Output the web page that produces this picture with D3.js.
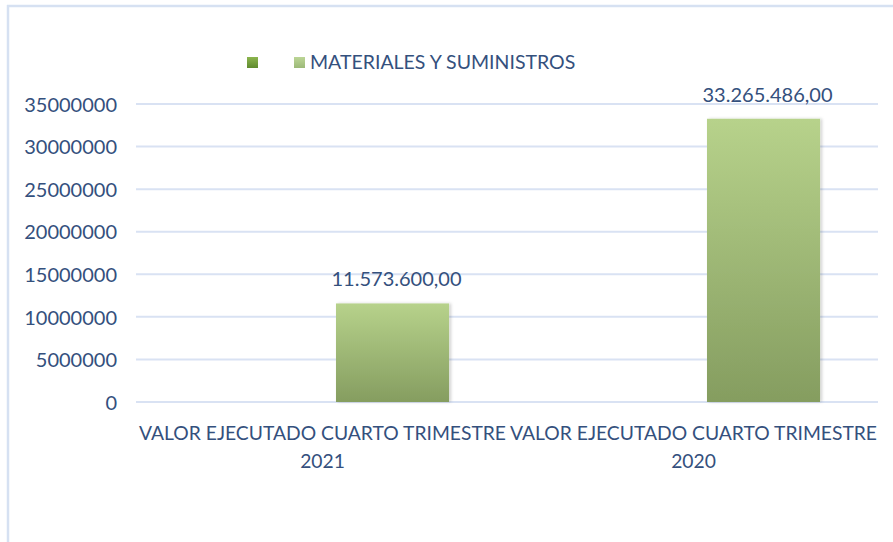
<!DOCTYPE html>
<html>
<head>
<meta charset="utf-8">
<script src="https://cdn.jsdelivr.net/npm/d3@7"></script>
<style>
  html, body { margin: 0; padding: 0; background: #ffffff; }
  svg { display: block; }
  text { font-family: Lato, "Open Sans", sans-serif; }
</style>
</head>
<body>
<svg id="chart" width="893" height="542"></svg>
<script>
// ---- data ----
const categories = ["VALOR EJECUTADO CUARTO TRIMESTRE 2021", "VALOR EJECUTADO CUARTO TRIMESTRE 2020"];
const categoryLines = [["VALOR EJECUTADO CUARTO TRIMESTRE", "2021"], ["VALOR EJECUTADO CUARTO TRIMESTRE", "2020"]];
const seriesNames = ["", "MATERIALES Y SUMINISTROS"];
const seriesEmpty = [null, null];
const seriesMateriales = [11573600.00, 33265486.00];
const dataLabels = ["11.573.600,00", "33.265.486,00"];
const yTicks = [0, 5000000, 10000000, 15000000, 20000000, 25000000, 30000000, 35000000];

const seriesValues = [seriesEmpty, seriesMateriales];

const svg = d3.select("#chart");
const W = 893, H = 542;
const textColor = "#34507d";
const gridColor = "#d9e2f3";

// defs: gradients
const defs = svg.append("defs");
const g1 = defs.append("linearGradient").attr("id", "barGrad").attr("x1", 0).attr("y1", 0).attr("x2", 0).attr("y2", 1);
g1.append("stop").attr("offset", "0%").attr("stop-color", "#b7d28b");
g1.append("stop").attr("offset", "100%").attr("stop-color", "#859d60");
const g2 = defs.append("linearGradient").attr("id", "darkGrad").attr("x1", 0).attr("y1", 0).attr("x2", 0).attr("y2", 1);
g2.append("stop").attr("offset", "0%").attr("stop-color", "#8cb54e");
g2.append("stop").attr("offset", "100%").attr("stop-color", "#5f8a2e");
const g3 = defs.append("linearGradient").attr("id", "legGrad").attr("x1", 0).attr("y1", 0).attr("x2", 0).attr("y2", 1);
g3.append("stop").attr("offset", "0%").attr("stop-color", "#bcd596");
g3.append("stop").attr("offset", "100%").attr("stop-color", "#9cb978");
const shadow = defs.append("filter").attr("id", "shadow").attr("x", "-10%").attr("y", "-10%").attr("width", "130%").attr("height", "120%");
shadow.append("feDropShadow").attr("dx", 2).attr("dy", 0).attr("stdDeviation", 1.5).attr("flood-color", "#000").attr("flood-opacity", 0.18);

// chart frame border (left and top visible)
svg.append("line").attr("x1", 8).attr("x2", 8).attr("y1", 5).attr("y2", H).attr("stroke", "#d6e1f2").attr("stroke-width", 2.5);
svg.append("line").attr("x1", 7).attr("x2", W).attr("y1", 6).attr("y2", 6).attr("stroke", "#d6e1f2").attr("stroke-width", 2.5);

// plot area
const plot = { left: 136, right: 878, top: 104, bottom: 402 };

const y = d3.scaleLinear().domain([0, 35000000]).range([plot.bottom, plot.top]);
const x0 = d3.scaleBand().domain(categories).range([plot.left, plot.right]).padding(0);
const x1 = d3.scaleBand().domain(seriesNames.map((d, i) => i)).range([0, x0.bandwidth()])
  .paddingInner(0.204).paddingOuter(0.408);

// gridlines
svg.append("g").selectAll("line").data(yTicks).join("line")
  .attr("x1", plot.left).attr("x2", plot.right)
  .attr("y1", d => y(d)).attr("y2", d => y(d))
  .attr("stroke", gridColor).attr("stroke-width", 2);

// y axis
const yAxis = d3.axisLeft(y).tickValues(yTicks).tickFormat(d => String(d)).tickSize(0).tickPadding(19);
const yg = svg.append("g").attr("transform", `translate(${plot.left},0)`).call(yAxis);
yg.select(".domain").remove();
yg.selectAll("text").attr("fill", textColor).attr("font-size", 20).attr("font-family", "Lato, sans-serif").attr("dy", "0.36em");

// bars
const barsG = svg.append("g");
seriesValues.forEach((vals, si) => {
  categories.forEach((c, ci) => {
    const v = vals[ci];
    if (v == null) return;
    barsG.append("rect")
      .attr("x", x0(c) + x1(si))
      .attr("y", y(v))
      .attr("width", x1.bandwidth())
      .attr("height", y(0) - y(v))
      .attr("fill", si === 0 ? "url(#darkGrad)" : "url(#barGrad)")
      .attr("filter", "url(#shadow)");
  });
});

// data labels
categories.forEach((c, ci) => {
  const v = seriesMateriales[ci];
  svg.append("text")
    .attr("x", x0(c) + x1(1) + x1.bandwidth() / 2 + 4)
    .attr("y", y(v) - 17)
    .attr("text-anchor", "middle")
    .attr("fill", textColor)
    .attr("font-size", 20)
    .text(dataLabels[ci]);
});

// x axis labels
const xg = svg.append("g");
categories.forEach((c, ci) => {
  const cx = x0(c) + x0.bandwidth() / 2 + 1;
  categoryLines[ci].forEach((line, li) => {
    xg.append("text")
      .attr("x", cx)
      .attr("y", 440 + li * 28)
      .attr("text-anchor", "middle")
      .attr("fill", textColor)
      .attr("font-size", 19.3)
      .text(line);
  });
});

// legend
const leg = svg.append("g");
leg.append("rect").attr("x", 247).attr("y", 57).attr("width", 11).attr("height", 11).attr("fill", "url(#darkGrad)");
leg.append("rect").attr("x", 294).attr("y", 57).attr("width", 11).attr("height", 11).attr("fill", "url(#legGrad)");
leg.append("text").attr("x", 310).attr("y", 69).attr("fill", textColor).attr("font-size", 19.5).text(seriesNames[1]);
</script>
</body>
</html>
